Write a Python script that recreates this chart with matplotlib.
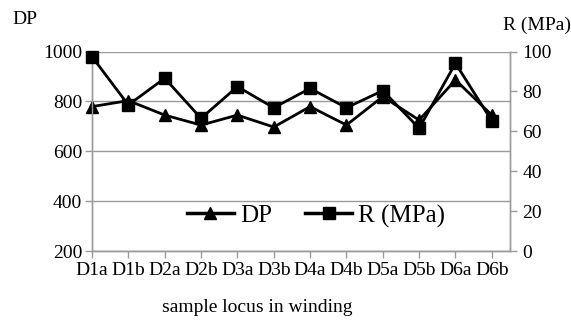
import matplotlib
matplotlib.use("Agg")
import matplotlib.pyplot as plt
from matplotlib.lines import Line2D

categories = ["D1a", "D1b", "D2a", "D2b", "D3a", "D3b", "D4a", "D4b", "D5a", "D5b", "D6a", "D6b"]
dp_values = [779, 803, 745, 705, 745, 697, 779, 705, 819, 725, 886, 745]
r_values = [97.4, 73.2, 86.6, 66.5, 82.4, 71.8, 81.5, 71.8, 80.4, 61.5, 94.1, 65.2]
dp_ticks = [200, 400, 600, 800, 1000]
r_ticks = [0, 20, 40, 60, 80, 100]

plt.rcParams['font.family'] = ['Liberation Serif', 'DejaVu Serif']

W, H = 571, 326
fig = plt.figure(figsize=(W / 100, H / 100), dpi=100)
left, right, top, bottom = 92, 510, 51.5, 251
ax = fig.add_axes([left / W, 1 - bottom / H, (right - left) / W, (bottom - top) / H])
ax2 = ax.twinx()

grid_c = '#9a9a9a'
x = list(range(len(categories)))
ax.plot(x, dp_values, color='black', lw=2, marker='^', ms=9, zorder=3, clip_on=False)
ax2.plot(x, r_values, color='black', lw=2, marker='s', ms=9, zorder=3, clip_on=False)

ax.set_xlim(0, 11.5)
ax.set_ylim(200, 1000)
ax2.set_ylim(0, 100)
ax.set_yticks(dp_ticks)
ax2.set_yticks(r_ticks)
ax.set_xticks(x)
ax.set_xticklabels(categories)

fs = 14
for a in (ax, ax2):
    for s in a.spines.values():
        s.set_color(grid_c)
        s.set_linewidth(1)
    a.spines['top'].set_visible(False)
    a.tick_params(colors=grid_c, labelcolor='black', labelsize=fs, length=5, width=1)
ax.tick_params(axis='x', pad=3)
ax.set_axisbelow(True)
ax.yaxis.grid(True, color=grid_c, lw=1)
ax.tick_params(axis='y', pad=2)
ax2.tick_params(axis='y', pad=4)

fig.text(12 / W, 1 - 20 / H, "DP", fontsize=fs, va='center', ha='left')
fig.text(571 / W, 1 - 25 / H, "R (MPa)", fontsize=fs, va='center', ha='right')
fig.text(257 / W, 1 - 307 / H, "sample locus in winding", fontsize=fs, va='center', ha='center')

handles = [Line2D([], [], color='black', lw=2.5, marker='^', ms=9),
           Line2D([], [], color='black', lw=2.5, marker='s', ms=9)]
leg = ax.legend(handles, ["DP", "R (MPa)"], loc='center', bbox_to_anchor=((316 - left) / (right - left), (bottom - 216) / (bottom - top)),
                ncol=2, frameon=False, fontsize=18, handlelength=1.9, handletextpad=0.25, columnspacing=1.3)

fig.savefig("out.png", dpi=100)
